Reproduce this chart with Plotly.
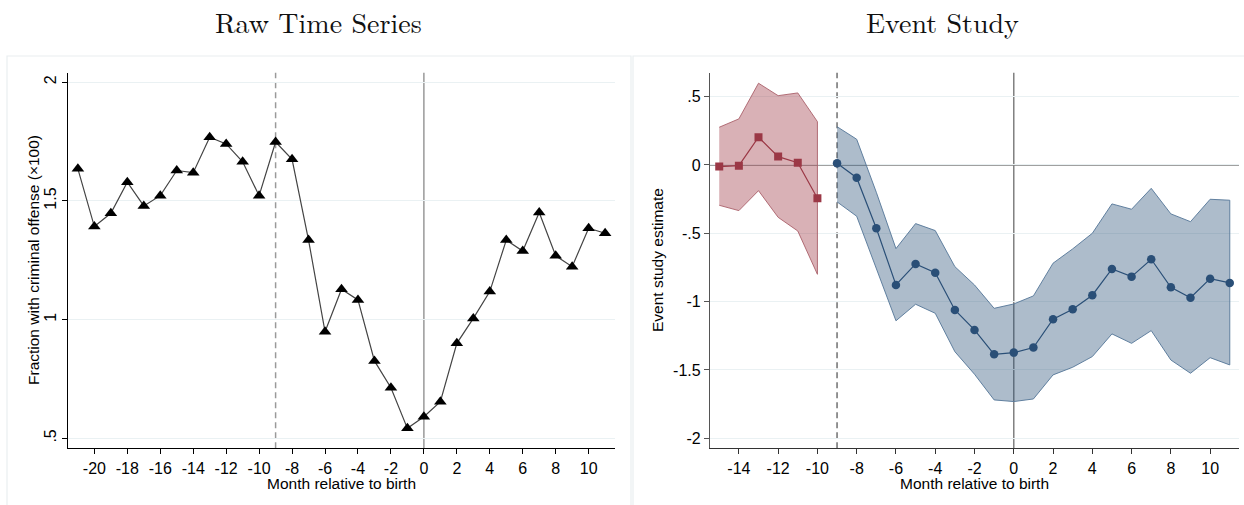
import plotly.graph_objects as go

# ---------------- data ----------------
raw_months = [-21, -20, -19, -18, -17, -16, -15, -14, -13, -12, -11, -10, -9, -8, -7, -6,
              -5, -4, -3, -2, -1, 0, 1, 2, 3, 4, 5, 6, 7, 8, 9, 10, 11]
raw_values = [1.635, 1.392, 1.448, 1.579, 1.479, 1.522, 1.628, 1.619, 1.768, 1.740, 1.665,
              1.522, 1.748, 1.675, 1.335, 0.949, 1.128, 1.083, 0.826, 0.713, 0.542, 0.591,
              0.654, 0.900, 1.005, 1.118, 1.335, 1.289, 1.451, 1.269, 1.223, 1.385, 1.364]

pre_months = [-15, -14, -13, -12, -11, -10]
pre_est = [-0.012, -0.005, 0.203, 0.061, 0.017, -0.244]
pre_hi = [0.276, 0.337, 0.598, 0.507, 0.527, 0.317]
pre_lo = [-0.295, -0.334, -0.188, -0.383, -0.483, -0.800]

post_months = [-9, -8, -7, -6, -5, -4, -3, -2, -1, 0, 1, 2, 3, 4, 5, 6, 7, 8, 9, 10, 11]
post_est = [0.012, -0.093, -0.463, -0.878, -0.724, -0.788, -1.061, -1.207, -1.385, -1.373,
            -1.336, -1.129, -1.056, -0.953, -0.761, -0.817, -0.690, -0.895, -0.971, -0.832, -0.863]
post_hi = [0.280, 0.188, -0.200, -0.612, -0.429, -0.480, -0.744, -0.878, -1.049, -1.017,
           -0.958, -0.719, -0.614, -0.500, -0.285, -0.324, -0.171, -0.358, -0.415, -0.251, -0.258]
post_lo = [-0.270, -0.375, -0.750, -1.140, -1.019, -1.085, -1.366, -1.531, -1.719, -1.731,
           -1.712, -1.536, -1.480, -1.402, -1.236, -1.305, -1.212, -1.427, -1.524, -1.410, -1.463]

left_xticks = [-20, -18, -16, -14, -12, -10, -8, -6, -4, -2, 0, 2, 4, 6, 8, 10]
left_xticktext = ["-20", "-18", "-16", "-14", "-12", "-10", "-8", "-6", "-4", "-2",
                  "0", "2", "4", "6", "8", "10"]
left_yticks = [0.5, 1, 1.5, 2]
left_yticktext = [".5", "1", "1.5", "2"]
right_xticks = [-14, -12, -10, -8, -6, -4, -2, 0, 2, 4, 6, 8, 10]
right_xticktext = ["-14", "-12", "-10", "-8", "-6", "-4", "-2", "0", "2", "4", "6", "8", "10"]
right_yticks = [0.5, 0, -0.5, -1, -1.5, -2]
right_yticktext = [".5", "0", "-.5", "-1", "-1.5", "-2"]

conception_month = -9
birth_month = 0

title_left = "Raw Time Series"
title_right = "Event Study"
xlabel = "Month relative to birth"
ylabel_left = "Fraction with criminal offense (×100)"
ylabel_right = "Event study estimate"

# ---------------- figure ----------------
W, H = 1244, 505
fig = go.Figure()

RED = "#9b3846"
BLUE = "#2a4f77"

# left panel
fig.add_trace(go.Scatter(x=raw_months, y=raw_values, mode="lines+markers",
                         line=dict(color="#444444", width=1.2),
                         marker=dict(symbol="triangle-up", size=11, color="black"),
                         xaxis="x", yaxis="y", showlegend=False, hoverinfo="skip"))

# right panel bands
fig.add_trace(go.Scatter(x=pre_months + pre_months[::-1], y=pre_hi + pre_lo[::-1],
                         fill="toself", fillcolor="rgba(155,50,62,0.38)",
                         line=dict(color="rgba(170,95,105,0.9)", width=1),
                         mode="lines", xaxis="x2", yaxis="y2", showlegend=False, hoverinfo="skip"))
fig.add_trace(go.Scatter(x=post_months + post_months[::-1], y=post_hi + post_lo[::-1],
                         fill="toself", fillcolor="rgba(42,80,120,0.385)",
                         line=dict(color="rgba(90,122,155,0.95)", width=1),
                         mode="lines", xaxis="x2", yaxis="y2", showlegend=False, hoverinfo="skip"))
fig.add_trace(go.Scatter(x=pre_months, y=pre_est, mode="lines+markers",
                         line=dict(color=RED, width=1.2),
                         marker=dict(symbol="square", size=8, color=RED),
                         xaxis="x2", yaxis="y2", showlegend=False, hoverinfo="skip"))
fig.add_trace(go.Scatter(x=post_months, y=post_est, mode="lines+markers",
                         line=dict(color=BLUE, width=1.2),
                         marker=dict(symbol="circle", size=8.5, color=BLUE),
                         xaxis="x2", yaxis="y2", showlegend=False, hoverinfo="skip"))

# reference lines
fig.add_shape(type="line", xref="x", yref="y domain", x0=conception_month, x1=conception_month,
              y0=0, y1=1, line=dict(color="#9a9a9a", width=1.5, dash="6px,4px"), layer="below")
fig.add_shape(type="line", xref="x", yref="y domain", x0=birth_month, x1=birth_month,
              y0=0, y1=1, line=dict(color="#999999", width=1.5), layer="below")
fig.add_shape(type="line", xref="x2", yref="y2 domain", x0=conception_month, x1=conception_month,
              y0=0, y1=1, line=dict(color="#707070", width=1.5, dash="6px,4px"), layer="below")
fig.add_shape(type="line", xref="x2", yref="y2 domain", x0=birth_month, x1=birth_month,
              y0=0, y1=1, line=dict(color="#808080", width=1.5), layer="below")
fig.add_shape(type="line", xref="x2 domain", yref="y2", x0=0, x1=1, y0=0, y1=0,
              line=dict(color="#808080", width=1.5), layer="below")

# panel frames
fig.add_shape(type="rect", xref="paper", yref="paper", x0=7 / W, x1=631 / W,
              y0=-0.2, y1=1 - 56 / H, line=dict(color="#e9eef0", width=1.2), layer="below")
fig.add_shape(type="rect", xref="paper", yref="paper", x0=633 / W, x1=1.2,
              y0=-0.2, y1=1 - 56 / H, line=dict(color="#e9eef0", width=1.2), layer="below")

tickfont = dict(family="Liberation Sans, Arial, sans-serif", size=16, color="black")
axis_common = dict(showline=True, linewidth=1.2, ticks="outside", ticklen=5, tickwidth=1,
                   tickfont=tickfont, zeroline=False, mirror=False)

ybot = 1 - 448.3 / H
ytop = 1 - 72.7 / H

fig.update_layout(
    width=W, height=H, margin=dict(l=0, r=0, t=0, b=0),
    paper_bgcolor="white", plot_bgcolor="white",
    xaxis=dict(domain=[68 / W, 615 / W], range=[-21.6, 11.6], tickvals=left_xticks,
               ticktext=left_xticktext,
               showgrid=False, linecolor="black", tickcolor="black", anchor="y", **axis_common),
    yaxis=dict(domain=[ybot, ytop], range=[0.458, 2.04], tickvals=left_yticks,
               ticktext=left_yticktext, tickangle=-90, showgrid=True, gridcolor="#eaf1f3",
               gridwidth=1, linecolor="black", tickcolor="black", anchor="x", **axis_common),
    xaxis2=dict(domain=[710 / W, 1239 / W], range=[-15.47, 11.47], tickvals=right_xticks,
                ticktext=right_xticktext,
                showgrid=False, linecolor="#333333", tickcolor="#333333", anchor="y2", **axis_common),
    yaxis2=dict(domain=[ybot, ytop], range=[-2.073, 0.675], tickvals=right_yticks,
                ticktext=right_yticktext, showgrid=True, gridcolor="#eaf1f3", gridwidth=1,
                linecolor="#555555", tickcolor="#555555", anchor="x2", **axis_common),
)

serif = "Latin Modern Roman, CMU Serif, Liberation Serif, Times New Roman, serif"
sans = "Liberation Sans, Arial, sans-serif"
annos = [
    dict(text=title_left, x=318.5 / W, y=1 - 21 / H, font=dict(family=serif, size=28, color="#111")),
    dict(text=title_right, x=942.5 / W, y=1 - 21 / H, font=dict(family=serif, size=28, color="#111")),
    dict(text=xlabel, x=341.5 / W, y=1 - 483 / H, font=dict(family=sans, size=15.5, color="black")),
    dict(text=xlabel, x=974.5 / W, y=1 - 483 / H, font=dict(family=sans, size=15.5, color="black")),
    dict(text=ylabel_left, x=33 / W, y=1 - 260 / H, textangle=-90,
         font=dict(family=sans, size=15.5, color="black")),
    dict(text=ylabel_right, x=657 / W, y=1 - 260 / H, textangle=-90,
         font=dict(family=sans, size=15.5, color="black")),
]
for a in annos:
    fig.add_annotation(xref="paper", yref="paper", showarrow=False, xanchor="center",
                       yanchor="middle", **a)

fig.write_html("out.html")
